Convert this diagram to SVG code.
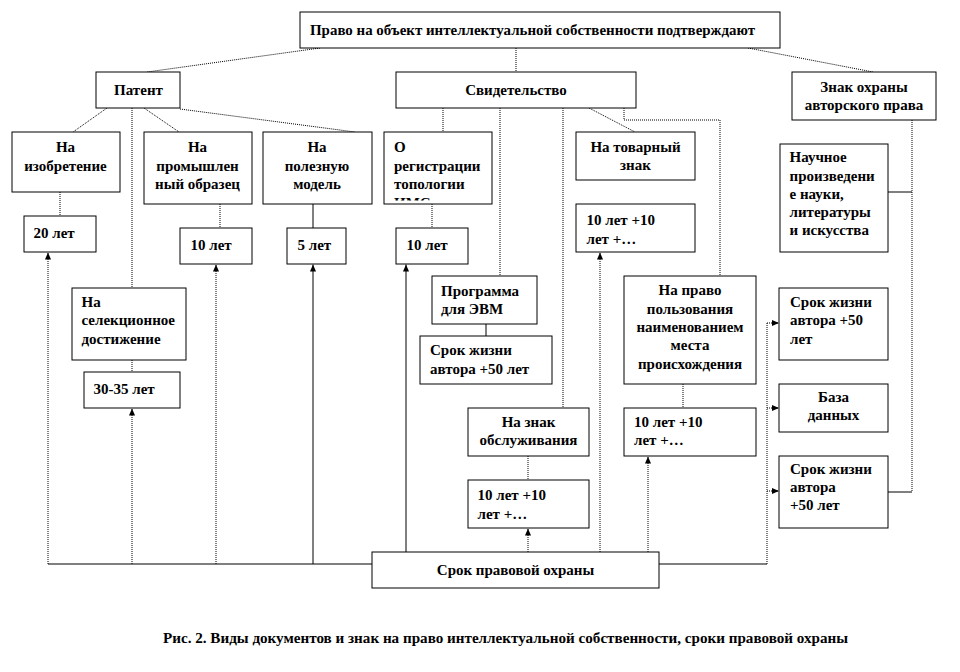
<svg xmlns="http://www.w3.org/2000/svg" width="960" height="672" viewBox="0 0 960 672">
<style>
  .box { fill: #fff; stroke: #000; stroke-width: 1; }
  .t { font-family: "Liberation Serif", "Times New Roman", serif; font-weight: bold; font-size: 15px; fill: #000; }
  .c { text-anchor: middle; }
  .sol { fill: none; stroke: #000; stroke-width: 1; }
  .dot { fill: none; stroke: #000; stroke-width: 1; stroke-dasharray: 1 1; }
</style>
<defs>
  <marker id="ah" markerUnits="userSpaceOnUse" markerWidth="8" markerHeight="6" refX="7" refY="3" orient="auto">
    <path d="M0,0 L7,3 L0,6 z" fill="#000"/>
  </marker>
  <clipPath id="clipIMS"><rect x="384" y="132" width="108" height="68.5"/></clipPath>
</defs>
<rect width="960" height="672" fill="#fff"/>

<g id="connectors">
  <!-- top level -->
  <path class="dot" d="M320,48 L147,72"/>
  <path class="dot" d="M516,48 L516,72"/>
  <path class="dot" d="M748,48 L873,72"/>
  <!-- Patent children -->
  <path class="dot" d="M107,108 L73,132"/>
  <path class="dot" d="M132,108 L132,288"/>
  <path class="dot" d="M144,108 L179,132"/>
  <path class="dot" d="M180,109 L355,132"/>
  <path class="dot" d="M60,192 L60,216"/>
  <path class="dot" d="M220,204 L220,228"/>
  <path class="sol" d="M313,204 L313,228"/>
  <path class="dot" d="M432,204 L432,228"/>
  <path class="dot" d="M132,348 L132,372"/>
  <!-- Svidetelstvo children -->
  <path class="dot" d="M443,108 L443,132"/>
  <path class="dot" d="M500,108 L500,276"/>
  <path class="dot" d="M563,108 L563,408"/>
  <path class="dot" d="M589,108 L635,132"/>
  <path class="dot" d="M624,108 L624,120 L720,120 L720,276"/>
  <path class="sol" d="M486,324 L486,336"/>
  <path class="dot" d="M528,456 L528,480"/>
  <path class="dot" d="M683,384 L683,408"/>
  <!-- Znak -->
  <path class="dot" d="M912,120 L912,492"/>
  <path class="sol" d="M888,192 L912,192"/>
  <path class="sol" d="M888,492 L912,492"/>
  <!-- bottom: Srok pravovoi okhrany -->
  <path class="sol" d="M48,564 L372,564"/>
  <path class="dot" d="M48,564 L48,252.5" marker-end="url(#ah)"/>
  <path class="dot" d="M132,564 L132,408.5" marker-end="url(#ah)"/>
  <path class="dot" d="M216,564 L216,264.5" marker-end="url(#ah)"/>
  <path class="sol" d="M313,564 L313,264.5" marker-end="url(#ah)"/>
  <path class="sol" d="M406,552 L406,264.5" marker-end="url(#ah)"/>
  <path class="dot" d="M528,552 L528,528.5" marker-end="url(#ah)"/>
  <path class="dot" d="M600,552 L600,252.5" marker-end="url(#ah)"/>
  <path class="dot" d="M648,552 L648,456.5" marker-end="url(#ah)"/>
  <path class="sol" d="M659,564 L767,564"/>
  <path class="dot" d="M767,564 L767,323"/>
  <path class="dot" d="M767,323 L779,323" marker-end="url(#ah)"/>
  <path class="dot" d="M767,408 L779,408" marker-end="url(#ah)"/>
  <path class="dot" d="M767,491 L779,491" marker-end="url(#ah)"/>
</g>

<g id="n-title">
  <rect class="box" x="300" y="12" width="480" height="36"/>
  <text class="t" x="310" y="35" textLength="445" lengthAdjust="spacingAndGlyphs">Право на объект интеллектуальной собственности подтверждают</text>
</g>
<g id="n-patent">
  <rect class="box" x="96" y="72" width="84" height="36"/>
  <text class="t c" x="138.5" y="95">Патент</text>
</g>
<g id="n-svid">
  <rect class="box" x="396" y="72" width="240" height="36"/>
  <text class="t c" x="516" y="95">Свидетельство</text>
</g>
<g id="n-znak">
  <rect class="box" x="792" y="72" width="144" height="48"/>
  <text class="t c" x="864" y="92">Знак охраны</text>
  <text class="t c" x="864" y="110">авторского права</text>
</g>
<g id="n-izobr">
  <rect class="box" x="12" y="132" width="108" height="60"/>
  <text class="t c" x="65.5" y="152">На</text>
  <text class="t c" x="65.5" y="171">изобретение</text>
</g>
<g id="n-prom">
  <rect class="box" x="144" y="132" width="108" height="72"/>
  <text class="t c" x="197.5" y="152">На</text>
  <text class="t c" x="197.5" y="171">промышлен</text>
  <text class="t c" x="197.5" y="189">ный образец</text>
</g>
<g id="n-polez">
  <rect class="box" x="263" y="132" width="109" height="72"/>
  <text class="t c" x="317" y="152">На</text>
  <text class="t c" x="317" y="171">полезную</text>
  <text class="t c" x="317" y="189">модель</text>
</g>
<g id="n-ims">
  <rect class="box" x="384" y="132" width="108" height="72"/>
  <g clip-path="url(#clipIMS)">
    <text class="t" x="394" y="152">О</text>
    <text class="t" x="394" y="171">регистрации</text>
    <text class="t" x="394" y="189">топологии</text>
    <text class="t" x="394" y="207.5">ИМС</text>
  </g>
</g>
<g id="n-tovar">
  <rect class="box" x="576" y="132" width="119" height="48"/>
  <text class="t c" x="635.5" y="152">На товарный</text>
  <text class="t c" x="635.5" y="170">знак</text>
</g>
<g id="n-nauch">
  <rect class="box" x="780" y="144" width="108" height="108"/>
  <text class="t" x="789.5" y="162">Научное</text>
  <text class="t" x="789.5" y="181">произведени</text>
  <text class="t" x="789.5" y="199">е науки,</text>
  <text class="t" x="789.5" y="217">литературы</text>
  <text class="t" x="789.5" y="235">и искусства</text>
</g>
<g id="n-20">
  <rect class="box" x="24" y="216" width="72" height="36"/>
  <text class="t" x="33.5" y="238">20 лет</text>
</g>
<g id="n-10a">
  <rect class="box" x="180" y="228" width="72" height="36"/>
  <text class="t" x="190.5" y="250">10 лет</text>
</g>
<g id="n-5">
  <rect class="box" x="287" y="228" width="59" height="36"/>
  <text class="t" x="297.5" y="250">5 лет</text>
</g>
<g id="n-10b">
  <rect class="box" x="396" y="228" width="72" height="36"/>
  <text class="t" x="406.5" y="250">10 лет</text>
</g>
<g id="n-10c">
  <rect class="box" x="576" y="204" width="119" height="48"/>
  <text class="t" x="586.5" y="225">10 лет +10</text>
  <text class="t" x="586.5" y="243.5">лет +…</text>
</g>
<g id="n-selek">
  <rect class="box" x="72" y="288" width="114" height="72"/>
  <text class="t" x="81.5" y="307">На</text>
  <text class="t" x="81.5" y="325">селекционное</text>
  <text class="t" x="81.5" y="344">достижение</text>
</g>
<g id="n-3035">
  <rect class="box" x="84" y="372" width="96" height="36"/>
  <text class="t" x="93.5" y="393.5">30-35 лет</text>
</g>
<g id="n-evm">
  <rect class="box" x="432" y="276" width="105" height="48"/>
  <text class="t" x="441" y="296">Программа</text>
  <text class="t" x="441" y="313.5">для ЭВМ</text>
</g>
<g id="n-evm-srok">
  <rect class="box" x="420" y="336" width="132" height="48"/>
  <text class="t" x="430" y="355">Срок жизни</text>
  <text class="t" x="430" y="373.5">автора +50 лет</text>
</g>
<g id="n-obsl">
  <rect class="box" x="468" y="408" width="121" height="48"/>
  <text class="t c" x="528.5" y="427">На знак</text>
  <text class="t c" x="528.5" y="445">обслуживания</text>
</g>
<g id="n-obsl-srok">
  <rect class="box" x="468" y="480" width="121" height="48"/>
  <text class="t" x="477.5" y="500">10 лет +10</text>
  <text class="t" x="477.5" y="518.5">лет +…</text>
</g>
<g id="n-mesto">
  <rect class="box" x="624" y="276" width="132" height="108"/>
  <text class="t c" x="690" y="295">На право</text>
  <text class="t c" x="690" y="313.5">пользования</text>
  <text class="t c" x="690" y="332">наименованием</text>
  <text class="t c" x="690" y="350">места</text>
  <text class="t c" x="690" y="368.5">происхождения</text>
</g>
<g id="n-mesto-srok">
  <rect class="box" x="624" y="408" width="132" height="48"/>
  <text class="t" x="634" y="427">10 лет +10</text>
  <text class="t" x="634" y="445">лет +…</text>
</g>
<g id="n-r1">
  <rect class="box" x="779" y="288" width="109" height="72"/>
  <text class="t" x="790" y="307">Срок жизни</text>
  <text class="t" x="790" y="325">автора +50</text>
  <text class="t" x="790" y="344">лет</text>
</g>
<g id="n-r2">
  <rect class="box" x="779" y="384" width="109" height="48"/>
  <text class="t c" x="833.5" y="402">База</text>
  <text class="t c" x="833.5" y="419.5">данных</text>
</g>
<g id="n-r3">
  <rect class="box" x="779" y="456" width="109" height="72"/>
  <text class="t" x="790" y="473.5">Срок жизни</text>
  <text class="t" x="790" y="492">автора</text>
  <text class="t" x="790" y="510">+50 лет</text>
</g>
<g id="n-srok">
  <rect class="box" x="372" y="552" width="287" height="36"/>
  <text class="t c" x="515.5" y="574.5">Срок правовой охраны</text>
</g>

<text class="t" x="163" y="643" style="font-size:14px" textLength="685" lengthAdjust="spacingAndGlyphs">Рис. 2. Виды документов и знак на право интеллектуальной собственности, сроки правовой охраны</text>
</svg>
